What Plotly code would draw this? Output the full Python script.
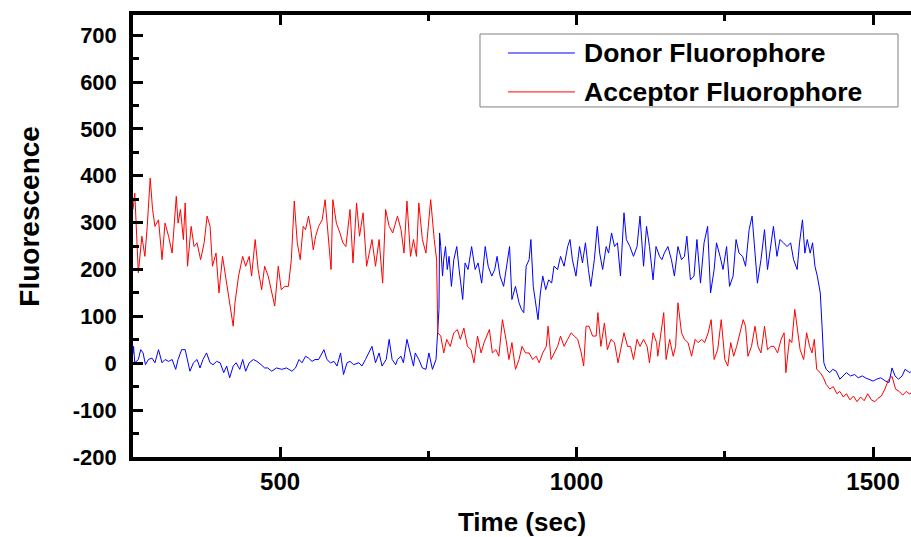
import plotly.graph_objects as go

# Donor fluorophore trace (time in s, fluorescence)
donor_t = [252, 253, 255, 261, 265, 269, 273, 278, 284, 289, 295, 301, 306, 312, 318, 324, 328, 334, 340, 344,
           348, 354, 360, 365, 370, 376, 382, 387, 393, 399, 405, 410, 415, 421, 426, 432, 437, 442, 448, 455,
           461, 468, 474, 479, 486, 494, 503, 511, 520, 526, 532, 537, 543, 548, 554, 559, 565, 574, 579, 585,
           591, 596, 602, 607, 613, 618, 624, 633, 638, 644, 650, 655, 661, 667, 672, 679, 684, 689, 695, 698,
           704, 708, 714, 720, 725, 728, 734, 740, 746, 751, 757, 763, 766, 768, 769, 771, 774, 776, 779, 782,
           785, 789, 793, 798, 802, 808, 812, 817, 823, 829, 834, 840, 846, 851, 857, 862, 866, 871, 877, 883,
           887, 891, 897, 903, 907, 911, 915, 920, 923, 927, 932, 935, 939, 943, 948, 953, 958, 962, 968, 973,
           979, 985, 989, 993, 999, 1005, 1010, 1015, 1020, 1024, 1030, 1035, 1039, 1044, 1050, 1054, 1059, 1064, 1069, 1074,
           1080, 1084, 1090, 1096, 1102, 1107, 1113, 1118, 1123, 1129, 1134, 1140, 1144, 1148, 1154, 1160, 1165, 1171, 1177, 1182,
           1186, 1192, 1198, 1203, 1209, 1215, 1221, 1226, 1232, 1236, 1242, 1247, 1253, 1258, 1264, 1269, 1274, 1280, 1285, 1291,
           1296, 1301, 1305, 1311, 1317, 1322, 1327, 1332, 1338, 1343, 1349, 1355, 1361, 1366, 1372, 1376, 1381, 1385, 1389, 1394,
           1398, 1402, 1406, 1411, 1414, 1417, 1421, 1427, 1432, 1438, 1444, 1450, 1455, 1462, 1469, 1475, 1482, 1487, 1493, 1500,
           1506, 1513, 1521, 1527, 1532, 1537, 1543, 1549, 1554, 1562, 1566]
donor_v = [20, 36, 1, 8, 29, 22, -3, 8, 11, 1, 29, 1, 8, 4, 8, -13, 8, 29, 29, 8,
           -17, 1, 8, -10, 8, 22, 1, -3, 4, 1, -20, -6, -31, -6, 1, -13, 8, -17, 1, 8,
           4, -3, -10, -10, -17, -10, -13, -10, -17, -10, 8, 1, 15, 11, 4, 8, 8, 29, 8, 1,
           4, -6, 22, -24, 1, 4, -3, 1, -6, 8, 22, 36, 1, 22, -6, 8, 51, 8, -3, 8,
           15, 1, 51, 22, -6, 22, 8, -10, -13, 22, -13, 8, 65, 115, 278, 249, 186, 221, 249, 200,
           228, 164, 221, 249, 200, 136, 214, 200, 249, 200, 214, 171, 249, 207, 186, 200, 228, 186, 164, 221,
           249, 136, 164, 129, 115, 108, 207, 221, 264, 164, 115, 93, 150, 186, 157, 178, 171, 207, 200, 228,
           207, 249, 264, 221, 186, 249, 214, 257, 200, 164, 221, 292, 235, 200, 249, 235, 278, 249, 257, 186,
           321, 264, 249, 228, 249, 314, 207, 292, 249, 178, 249, 228, 221, 235, 249, 221, 186, 249, 221, 228,
           271, 178, 186, 264, 171, 257, 292, 150, 200, 257, 228, 200, 249, 164, 186, 264, 235, 228, 207, 285,
           314, 235, 171, 221, 285, 200, 249, 292, 228, 264, 257, 249, 257, 221, 200, 257, 306, 235, 264, 235,
           257, 207, 186, 150, 79, 1, -13, -20, -13, -17, -34, -27, -20, -27, -24, -31, -27, -31, -34, -38,
           -34, -31, -38, -41, -10, -27, -34, -27, -13, -20, -15]

# Acceptor fluorophore trace (time in s, fluorescence)
acceptor_t = [252, 255, 261, 267, 272, 276, 281, 285, 289, 295, 301, 306, 312, 318, 325, 328, 332, 337, 340, 344,
              350, 355, 360, 366, 372, 377, 382, 386, 392, 397, 403, 408, 414, 421, 424, 430, 437, 442, 448, 452,
              458, 463, 469, 474, 480, 486, 491, 497, 502, 508, 514, 519, 524, 529, 534, 539, 543, 548, 552, 556,
              560, 565, 571, 576, 581, 586, 589, 595, 601, 606, 611, 618, 623, 629, 634, 640, 646, 651, 655, 661,
              667, 673, 678, 684, 690, 698, 704, 709, 714, 720, 725, 730, 734, 740, 746, 750, 754, 760, 764, 766,
              771, 776, 781, 787, 793, 799, 804, 810, 816, 822, 827, 833, 839, 844, 853, 858, 864, 869, 875, 881,
              886, 891, 897, 903, 908, 914, 920, 926, 932, 937, 943, 949, 952, 957, 963, 968, 973, 979, 985, 991,
              996, 1002, 1008, 1012, 1016, 1021, 1027, 1033, 1036, 1041, 1047, 1052, 1058, 1064, 1070, 1075, 1080, 1086, 1091, 1096,
              1102, 1107, 1113, 1119, 1123, 1129, 1135, 1137, 1143, 1147, 1151, 1157, 1163, 1167, 1171, 1177, 1182, 1188, 1194, 1200,
              1205, 1211, 1216, 1222, 1227, 1232, 1238, 1244, 1250, 1255, 1260, 1265, 1270, 1275, 1281, 1285, 1289, 1295, 1301, 1306,
              1311, 1317, 1322, 1328, 1333, 1339, 1345, 1350, 1353, 1359, 1363, 1368, 1372, 1377, 1383, 1388, 1393, 1397, 1401, 1405,
              1411, 1416, 1421, 1427, 1433, 1439, 1444, 1450, 1455, 1461, 1467, 1473, 1479, 1485, 1491, 1497, 1503, 1508, 1514, 1520,
              1526, 1532, 1538, 1544, 1550, 1556, 1562, 1566]
acceptor_v = [328, 363, 193, 271, 228, 292, 395, 328, 292, 306, 221, 299, 271, 235, 356, 299, 328, 264, 342, 207,
              292, 249, 257, 221, 257, 314, 292, 207, 235, 150, 228, 186, 136, 79, 129, 186, 228, 207, 228, 186,
              264, 200, 157, 207, 186, 150, 122, 207, 157, 164, 164, 221, 346, 257, 221, 292, 285, 314, 285, 242,
              271, 292, 306, 349, 271, 200, 349, 299, 278, 257, 249, 328, 214, 342, 271, 321, 207, 242, 264, 207,
              264, 171, 328, 292, 278, 314, 285, 235, 346, 228, 264, 228, 342, 264, 235, 292, 349, 264, 221, 65,
              58, 22, 51, 36, 65, 72, 51, 75, 36, 29, 1, 58, 22, 44, 72, 22, 29, 15, 93, 51,
              8, 44, -13, 8, 36, 22, 22, 8, 15, 1, 22, 36, 79, 8, 22, 36, 58, 36, 51, 65,
              58, 51, 22, -6, 79, 79, 58, 58, 108, 36, 86, 29, 51, 44, 1, 36, 65, 36, 36, 8,
              51, 36, 51, 36, 1, 65, 44, 15, 72, 108, 8, 51, 15, 36, 129, 65, 51, 44, 15, 51,
              44, 51, 44, 65, 93, 8, 29, 93, 8, -6, 44, 15, 36, 65, 93, 79, 15, 36, 79, 36,
              22, 79, 29, 36, 36, 22, 51, 65, -20, 51, 44, 115, 79, 29, 8, 65, 36, 22, 51, -13,
              -20, -30, -45, -55, -50, -65, -60, -72, -65, -78, -70, -82, -72, -80, -65, -78, -82, -75, -70, -55,
              -35, -28, -55, -60, -68, -60, -66, -60]

series_names = ["Donor Fluorophore", "Acceptor Fluorophore"]
series_colors = ["#0000FF", "#FF0000"]

x_ticks = [500, 1000, 1500]
x_minor = [750, 1250]
y_ticks = [-200, -100, 0, 100, 200, 300, 400, 500, 600, 700]
y_minor = [-150, -50, 50, 150, 250, 350, 450, 550, 650]
x_range = [252, 1564]
y_range = [-200, 743]

FONT = "Liberation Sans, Arial, sans-serif"

fig = go.Figure()
fig.add_trace(go.Scatter(x=donor_t, y=donor_v, mode="lines", name=series_names[0],
                         line=dict(color=series_colors[0], width=1), showlegend=False))
fig.add_trace(go.Scatter(x=acceptor_t, y=acceptor_v, mode="lines", name=series_names[1],
                         line=dict(color=series_colors[1], width=1), showlegend=False))

# Legend drawn as a framed box with sample lines and labels (paper coordinates)
box = dict(x0=0.446, x1=0.9833, y0=0.792, y1=0.957)
rows_y = [0.914, 0.826]
shapes = [dict(type="rect", xref="paper", yref="paper", layer="above",
               x0=box["x0"], x1=box["x1"], y0=box["y0"], y1=box["y1"],
               line=dict(color="#808080", width=1), fillcolor="white")]
annotations = []
for name, col, ry in zip(series_names, series_colors, rows_y):
    shapes.append(dict(type="line", xref="paper", yref="paper", layer="above",
                       x0=0.482, x1=0.568, y0=ry, y1=ry, line=dict(color=col, width=1)))
    annotations.append(dict(text=name, xref="paper", yref="paper", x=0.577, y=ry,
                            xanchor="left", yanchor="middle", showarrow=False,
                            font=dict(family=FONT, size=26.5, weight="bold", color="black")))

annotations.append(dict(text="Fluorescence", xref="paper", yref="paper", x=-0.133, y=0.545,
                        xanchor="center", yanchor="middle", textangle=-90, showarrow=False,
                        font=dict(family=FONT, size=28, weight="bold", color="black")))

tick_common = dict(ticks="inside", ticklen=10, tickwidth=3, tickcolor="black",
                   showgrid=False, zeroline=False)

fig.update_layout(
    width=911, height=537,
    margin=dict(l=133, r=0, t=15, b=80, pad=0),
    paper_bgcolor="white", plot_bgcolor="white",
    font=dict(family=FONT, color="black"),
    showlegend=False,
    shapes=shapes,
    annotations=annotations,
    xaxis=dict(range=x_range, tickvals=x_ticks, ticktext=[str(v) for v in x_ticks],
               showline=True, linewidth=3.5, linecolor="black", mirror="allticks",
               tickfont=dict(family=FONT, size=24, weight="bold"),
               minor=dict(tickvals=x_minor, ticks="inside", ticklen=6, tickwidth=3, tickcolor="black"),
               title=dict(text="Time (sec)", font=dict(family=FONT, size=26, weight="bold"), standoff=20),
               **tick_common),
    yaxis=dict(range=y_range, tickvals=y_ticks, ticktext=[str(v) for v in y_ticks],
               showline=True, linewidth=3.5, linecolor="black", mirror=False,
               tickfont=dict(family=FONT, size=22, weight="bold"),
               ticklabelstandoff=8,
               minor=dict(tickvals=y_minor, ticks="inside", ticklen=6, tickwidth=3, tickcolor="black"),
               **tick_common),
    yaxis2=dict(range=y_range, tickvals=y_ticks, overlaying="y", side="right",
                showline=False, showticklabels=False,
                minor=dict(tickvals=y_minor, ticks="inside", ticklen=6, tickwidth=3, tickcolor="black"),
                **tick_common),
)

fig.write_html("out.html")
